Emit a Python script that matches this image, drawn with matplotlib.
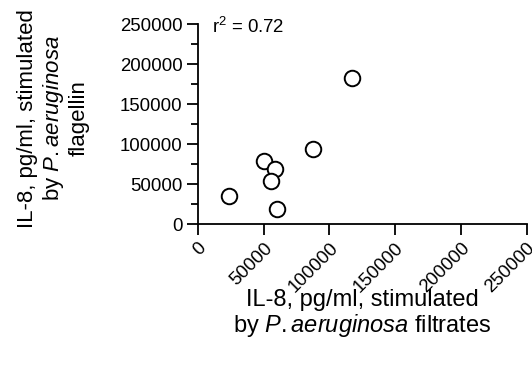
import numpy as np
import matplotlib
matplotlib.use("Agg")
import matplotlib.pyplot as plt

plt.rcParams['font.family'] = ['Liberation Sans', 'DejaVu Sans']
plt.rcParams['mathtext.fontset'] = 'custom'
plt.rcParams['mathtext.rm'] = 'Liberation Sans'
plt.rcParams['mathtext.it'] = 'Liberation Sans:italic'

# IL-8 (pg/ml) stimulated by filtrates vs by flagellin
filtrates = [24000, 50000, 59000, 55800, 60200, 87400, 117200]
flagellin = [35400, 79100, 68700, 54100, 18400, 93400, 182500]
ticks = [0, 50000, 100000, 150000, 200000, 250000]
r2_text = r'r$^2$ = 0.72'
species = r'$\mathit{P.aeruginosa}$'

fig = plt.figure(figsize=(5.32, 3.65), dpi=100)
ax = fig.add_axes([0.372, 0.386, 0.618, 0.548])

ax.scatter(filtrates, flagellin, s=125, facecolors='white', edgecolors='black',
           linewidths=1.4, zorder=3, clip_on=False)

ax.set_xlim(0, 250000)
ax.set_ylim(0, 250000)
ax.set_xticks(ticks)
ax.set_yticks(ticks)
ax.set_yticks(np.arange(25000, 250000, 50000), minor=True)
ax.set_xticklabels([str(t) for t in ticks], rotation=45, ha='right',
                   va='top', rotation_mode='anchor')
ax.set_yticklabels([str(t) for t in ticks])

for s in ['top', 'right']:
    ax.spines[s].set_visible(False)
for s in ['left', 'bottom']:
    ax.spines[s].set_linewidth(1.3)
ax.tick_params(axis='both', which='major', length=8, width=1.3,
               labelsize=13.4, pad=3)
ax.tick_params(axis='y', which='minor', length=5, width=1.3)

ax.text(0.043, 1.035, r2_text, transform=ax.transAxes, fontsize=13.4,
        ha='left', va='top')

ax.set_xlabel('IL-8, pg/ml, stimulated\nby ' + species + ' filtrates',
              fontsize=17, linespacing=1.05)
ax.xaxis.set_label_coords(0.5, -0.325)
ax.set_ylabel('IL-8, pg/ml, stimulated\nby ' + species + '\nflagellin',
              fontsize=16, linespacing=1.15)
ax.yaxis.set_label_coords(-0.33, 0.53)

fig.savefig('out.png', dpi=100)
